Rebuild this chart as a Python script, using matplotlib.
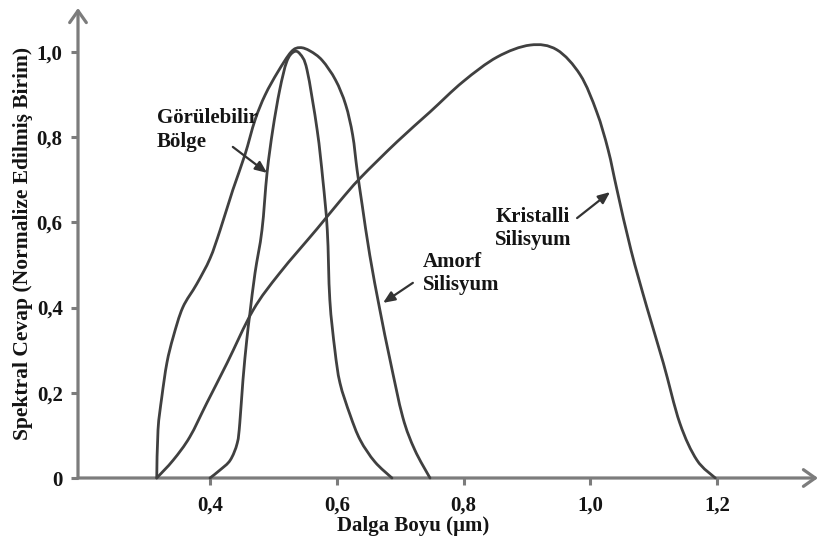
import matplotlib
matplotlib.use("Agg")
import matplotlib.pyplot as plt
from matplotlib.path import Path
from matplotlib.patches import PathPatch

# Spectral response curves (wavelength in µm, normalised response)
visible_x = [0.400, 0.416, 0.432, 0.443, 0.447, 0.452, 0.458, 0.463, 0.471, 0.482,
             0.490, 0.499, 0.510, 0.521, 0.532, 0.542, 0.553, 0.569, 0.578, 0.585,
             0.589, 0.597, 0.605, 0.621, 0.637, 0.660, 0.687]
visible_y = [0.000, 0.019, 0.042, 0.082, 0.129, 0.230, 0.324, 0.387, 0.481, 0.582,
             0.716, 0.817, 0.911, 0.977, 1.000, 0.995, 0.958, 0.817, 0.700, 0.582,
             0.418, 0.300, 0.223, 0.148, 0.089, 0.038, 0.000]

amorf_x = [0.316, 0.318, 0.324, 0.332, 0.342, 0.357, 0.379, 0.400, 0.416, 0.436,
           0.455, 0.471, 0.487, 0.507, 0.528, 0.542, 0.558, 0.577, 0.598, 0.614,
           0.625, 0.632, 0.640, 0.652, 0.668, 0.684, 0.704, 0.723, 0.747]
amorf_y = [0.000, 0.113, 0.190, 0.270, 0.331, 0.400, 0.455, 0.515, 0.582, 0.676,
           0.758, 0.840, 0.899, 0.953, 1.000, 1.010, 1.002, 0.980, 0.934, 0.876,
           0.805, 0.723, 0.641, 0.523, 0.394, 0.277, 0.143, 0.066, 0.000]

kristal_x = [0.316, 0.342, 0.368, 0.395, 0.427, 0.468, 0.510, 0.569, 0.605, 0.637,
             0.695, 0.747, 0.799, 0.853, 0.905, 0.947, 0.984, 1.010, 1.028,
             1.042, 1.064, 1.089, 1.115, 1.141, 1.168, 1.197]
kristal_y = [0.000, 0.042, 0.096, 0.176, 0.270, 0.394, 0.481, 0.585, 0.650, 0.704,
             0.789, 0.859, 0.930, 0.988, 1.016, 1.005, 0.946, 0.859, 0.770,
             0.676, 0.535, 0.401, 0.270, 0.129, 0.042, 0.000]

x_ticks = [0.4, 0.6, 0.8, 1.0, 1.2]
x_tick_labels = ["0,4", "0,6", "0,8", "1,0", "1,2"]
y_ticks = [0.0, 0.2, 0.4, 0.6, 0.8, 1.0]
y_tick_labels = ["0", "0,2", "0,4", "0,6", "0,8", "1,0"]

SERIF = ["Liberation Serif", "DejaVu Serif"]
TXT = "#141414"
CURVE = "#404040"
AXIS = "#7c7c7c"
FS = 15


def smooth_curve(xs, ys):
    """Cubic Bezier path passing through every (x, y) point (Catmull-Rom handles)."""
    pts = list(zip(xs, ys))
    n = len(pts)
    verts = [pts[0]]
    codes = [Path.MOVETO]
    for i in range(n - 1):
        p0 = pts[max(i - 1, 0)]
        p1 = pts[i]
        p2 = pts[i + 1]
        p3 = pts[min(i + 2, n - 1)]
        c1 = (p1[0] + (p2[0] - p0[0]) / 6, p1[1] + (p2[1] - p0[1]) / 6)
        c2 = (p2[0] - (p3[0] - p1[0]) / 6, p2[1] - (p3[1] - p1[1]) / 6)
        verts += [c1, c2, p2]
        codes += [Path.CURVE4] * 3
    return Path(verts, codes)


fig = plt.figure(figsize=(8.18, 5.37), dpi=100)
ax = fig.add_axes([78 / 818, 59 / 537, 740 / 818, 470 / 537])
ax.set_xlim(0.1918, 1.359)
ax.set_ylim(0.0, 1.103)

for xs, ys in [(visible_x, visible_y), (amorf_x, amorf_y), (kristal_x, kristal_y)]:
    ax.add_patch(PathPatch(smooth_curve(xs, ys), fill=False, edgecolor=CURVE,
                           lw=2.0, joinstyle="round", capstyle="round",
                           clip_on=False, zorder=3))

# axes drawn as arrows
for sp in ax.spines.values():
    sp.set_visible(False)
arrow_kw = dict(arrowstyle="->,head_length=0.85,head_width=0.6", color=AXIS,
                lw=2.3, shrinkA=0, shrinkB=0)
ax.annotate("", xy=(1.0, 0.0), xytext=(0.0, 0.0), xycoords="axes fraction",
            textcoords="axes fraction", arrowprops=arrow_kw, zorder=2)
ax.annotate("", xy=(0.0, 1.0), xytext=(0.0, 0.0), xycoords="axes fraction",
            textcoords="axes fraction", arrowprops=arrow_kw, zorder=2)

ax.set_xticks(x_ticks)
ax.set_xticklabels(x_tick_labels)
ax.set_yticks(y_ticks)
ax.set_yticklabels(y_tick_labels)
ax.tick_params(axis="both", direction="out", length=5, width=2.2, color=AXIS,
               labelcolor=TXT)
ax.tick_params(axis="x", pad=8)
ax.tick_params(axis="y", pad=6)
for lab in ax.get_xticklabels() + ax.get_yticklabels():
    lab.set_family(SERIF)
    lab.set_fontweight("bold")
    lab.set_fontsize(FS)

ax.text(0.4527, (478 - 516) / 470, "Dalga Boyu (µm)", transform=ax.transAxes,
        ha="center", va="top", family=SERIF, fontweight="bold", fontsize=FS,
        color=TXT)
fig.text(23 / 818, 1 - 243 / 537, "Spektral Cevap (Normalize Edilmiş Birim)",
         rotation=90, ha="center", va="center", family=SERIF,
         fontweight="bold", fontsize=15.5, color=TXT)

# curve annotations
text_kw = dict(family=SERIF, fontweight="bold", fontsize=FS, color=TXT,
               ha="left", va="baseline", zorder=4)
ax.text(0.316, 0.833, "Görülebilir", **text_kw)
ax.text(0.316, 0.777, "Bölge", **text_kw)
ax.text(0.850, 0.601, "Kristalli", **text_kw)
ax.text(0.850, 0.547, "Silisyum", **text_kw)
ax.text(0.736, 0.495, "Amorf", **text_kw)
ax.text(0.736, 0.441, "Silisyum", **text_kw)

pointer = dict(arrowstyle="-|>,head_length=0.7,head_width=0.3", color="#333333",
               lw=1.6, shrinkA=0, shrinkB=0)
ax.annotate("", xy=(0.490, 0.716), xytext=(0.436, 0.777), arrowprops=pointer, zorder=4)
ax.annotate("", xy=(1.031, 0.671), xytext=(0.979, 0.610), arrowprops=pointer, zorder=4)
ax.annotate("", xy=(0.673, 0.411), xytext=(0.720, 0.458), arrowprops=pointer, zorder=4)

fig.savefig("out.png", dpi=100, facecolor="white")
